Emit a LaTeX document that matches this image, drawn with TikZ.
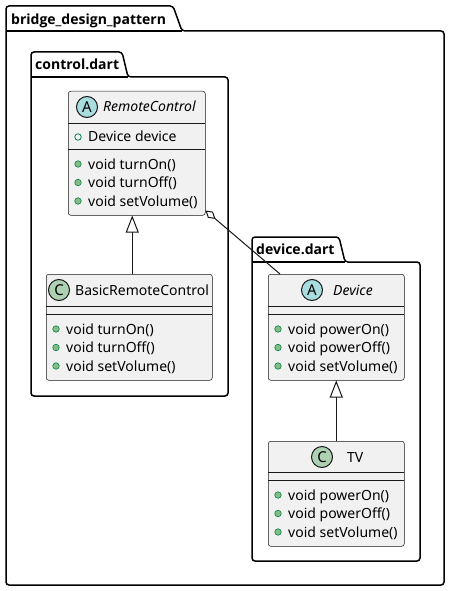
\documentclass[tikz,border=0pt]{standalone}
\usepackage{fontspec}
\setmainfont{Noto Sans}
\newfontfamily\pkgfont{Open Sans}
\usetikzlibrary{arrows.meta,calc}
\definecolor{clsfill}{HTML}{F1F1F1}
\definecolor{clsline}{HTML}{181818}
\definecolor{absA}{HTML}{A9DCDF}
\definecolor{clsC}{HTML}{ADD1B2}
\definecolor{pubfill}{HTML}{84BE84}
\definecolor{publine}{HTML}{038048}
\newcommand{\umlpkg}[7]{%
  \filldraw[pkgline] (#1,#7) -- (#1,#2) -- (#3,#2) -- (#4,#5) -- (#6,#5) -- (#6,#7) -- cycle;
  \draw[line width=1.5pt] (#1,#5) -- (#4,#5);}
\begin{document}
\begin{tikzpicture}[x=1pt,y=-1pt,
  pkgline/.style={draw=black, fill=white, line width=1.5pt, rounded corners=3pt},
  pkglabel/.style={anchor=base west, inner sep=0pt, font=\pkgfont\bfseries\fontsize{14}{16}\selectfont},
  classbox/.style={draw=clsline, fill=clsfill, line width=0.5pt, rounded corners=2.5pt, inner sep=0pt, anchor=north west},
  sep/.style={draw=clsline, line width=0.5pt},
  member/.style={anchor=base west, inner sep=0pt, font=\fontsize{14}{16}\selectfont},
  cname/.style={anchor=base west, inner sep=0pt, font=\fontsize{14}{16}\selectfont},
  pubdot/.style={circle, fill=pubfill, draw=publine, line width=0.6pt, minimum size=6.5pt, inner sep=0pt},
  pubfield/.style={circle, fill=none, draw=publine, line width=0.8pt, minimum size=6.5pt, inner sep=0pt},
  badgeA/.style={circle, fill=absA, draw=clsline, line width=1pt, minimum size=21pt, inner sep=0pt, font=\fontsize{15}{16}\selectfont},
  badgeC/.style={circle, fill=clsC, draw=clsline, line width=1pt, minimum size=21pt, inner sep=0pt, font=\fontsize{15}{16}\selectfont},
  inh/.style={-{Triangle[open, length=17pt, width=13pt]}, draw=clsline, line width=1pt},
  agg/.style={{Diamond[open, length=13pt, width=8pt]}-, draw=clsline, line width=1pt}
]
\useasboundingbox[fill=white] (0,0) rectangle (450,591);

% packages
\umlpkg{6}{6}{173}{182}{31}{444}{585}
\node[pkglabel] (lblbridge) at (11,25) {bridge\_design\_pattern};
\umlpkg{31}{52}{122}{128}{77}{228}{396}
\node[pkglabel] (lblcontrol) at (35,70) {control.dart};
\umlpkg{252}{237}{339}{345}{262}{420}{561}
\node[pkglabel] (lbldevice) at (256,254) {device.dart};

% RemoteControl
\node[classbox, minimum width=137pt, minimum height=124pt] (rc) at (68,91) {};
\draw[sep] (68,123) -- (205,123);
\draw[sep] (68,149) -- (205,149);
\node[badgeA] (rcbadge) at (87,107) {A};
\node[cname, font=\itshape\fontsize{14}{16}\selectfont] (rcname) at (103,112) {RemoteControl};
\node[pubfield] (rcf1) at (78,137) {};
\node[member] (rct1) at (88,142) {Device device};
\node[pubdot] (rcm1) at (78,164) {};
\node[member] (rcm1t) at (88,169) {void turnOn()};
\node[pubdot] (rcm2) at (78,182.5) {};
\node[member] (rcm2t) at (88,187.5) {void turnOff()};
\node[pubdot] (rcm3) at (78,201) {};
\node[member] (rcm3t) at (88,206) {void setVolume()};

% BasicRemoteControl
\node[classbox, minimum width=166pt, minimum height=106pt] (brc) at (46,274) {};
\draw[sep] (46,306) -- (212,306);
\draw[sep] (46,314) -- (212,314);
\node[badgeC] (brcbadge) at (59,290) {C};
\node[cname] (brcname) at (75,295) {BasicRemoteControl};
\node[pubdot] (brcm1) at (56,329) {};
\node[member] (brcm1t) at (66,334) {void turnOn()};
\node[pubdot] (brcm2) at (56,347.5) {};
\node[member] (brcm2t) at (66,352.5) {void turnOff()};
\node[pubdot] (brcm3) at (56,366) {};
\node[member] (brcm3t) at (66,371) {void setVolume()};

% Device
\node[classbox, minimum width=136pt, minimum height=106pt] (dev) at (268,274) {};
\draw[sep] (268,306) -- (404,306);
\draw[sep] (268,314) -- (404,314);
\node[badgeA] (devbadge) at (312,290) {A};
\node[cname, font=\itshape\fontsize{14}{16}\selectfont] (devname) at (333,295) {Device};
\node[pubdot] (devm1) at (278,329) {};
\node[member] (devm1t) at (288,334) {void powerOn()};
\node[pubdot] (devm2) at (278,347.5) {};
\node[member] (devm2t) at (288,352.5) {void powerOff()};
\node[pubdot] (devm3) at (278,366) {};
\node[member] (devm3t) at (288,371) {void setVolume()};

% TV
\node[classbox, minimum width=136pt, minimum height=105pt] (tv) at (268,441) {};
\draw[sep] (268,472) -- (404,472);
\draw[sep] (268,480) -- (404,480);
\node[badgeC] (tvbadge) at (322,457) {C};
\node[cname] (tvname) at (347,462) {TV};
\node[pubdot] (tvm1) at (278,495) {};
\node[member] (tvm1t) at (288,500) {void powerOn()};
\node[pubdot] (tvm2) at (278,513.5) {};
\node[member] (tvm2t) at (288,518.5) {void powerOff()};
\node[pubdot] (tvm3) at (278,532) {};
\node[member] (tvm3t) at (288,537) {void setVolume()};

% connectors
\draw[inh] ([xshift=3pt]brc.north) -- ([xshift=3pt]brc.north |- rc.south);
\draw[inh] (tv.north) -- (dev.south);
\draw[agg] ([yshift=5pt]rc.south east) -- ([xshift=12pt]dev.north west);
\end{tikzpicture}
\end{document}
